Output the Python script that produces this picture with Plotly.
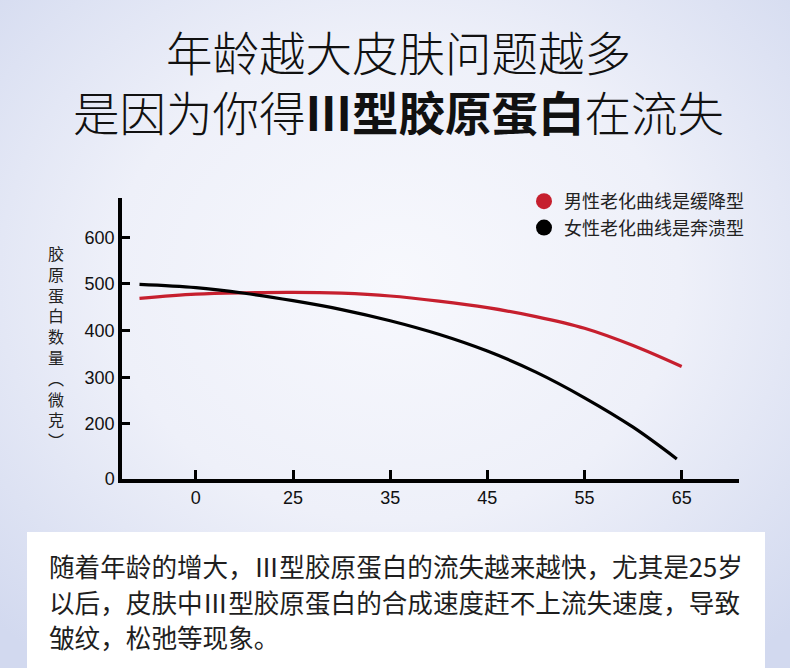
import base64
import plotly.graph_objects as go

# ---------------- data ----------------
age_labels = ["0", "25", "35", "45", "55", "65"]
age_pos = [0, 1, 2, 3, 4, 5]

male_x = [-0.58, 0, 0.5, 1, 1.5, 2, 2.5, 3, 3.5, 4, 4.5, 5]
male_y = [469, 478, 481, 482, 480, 474, 463, 449, 430, 405, 368, 323]

female_x = [-0.58, 0, 0.5, 1, 1.5, 2, 2.5, 3, 3.5, 4, 4.5, 4.95]
female_y = [499, 492, 480, 464, 445, 421, 392, 356, 311, 256, 193, 125]

y_tick_vals = [82, 200, 300, 400, 500, 600]
y_tick_text = ["0", "200", "300", "400", "500", "600"]

male_name = "男性老化曲线是缓降型"
female_name = "女性老化曲线是奔溃型"
y_title = "胶<br>原<br>蛋<br>白<br>数<br>量<br>︵<br>微<br>克<br>︶"
title_text = "年龄越大皮肤问题越多<br>是因为你得<b>Ⅲ型胶原蛋白</b>在流失"
para_lines = [
    "随着年龄的增大，Ⅲ型胶原蛋白的流失越来越快，尤其是25岁",
    "以后，皮肤中Ⅲ型胶原蛋白的合成速度赶不上流失速度，导致",
    "皱纹，松弛等现象。",
]

# ---------------- geometry helpers ----------------
W, H = 790, 668
L, R, T, B = 122, 51, 198, 189
PW, PH = W - L - R, H - T - B


def px(x):
    return (x - L) / PW


def py(y):
    return (H - B - y) / PH


CJK = "Noto Sans CJK SC"
NUM = "Liberation Sans, Arial, sans-serif"
RED = "#c61f2e"

fig = go.Figure()
fig.add_trace(go.Scatter(x=male_x, y=male_y, mode="lines", showlegend=False,
                         line=dict(color=RED, width=3.2, shape="spline", smoothing=1.0)))
fig.add_trace(go.Scatter(x=female_x, y=female_y, mode="lines", showlegend=False,
                         line=dict(color="#000000", width=3.2, shape="spline", smoothing=1.0)))
# legend entries
fig.add_trace(go.Scatter(x=[None], y=[None], mode="markers", name=male_name,
                         marker=dict(color=RED, size=17)))
fig.add_trace(go.Scatter(x=[None], y=[None], mode="markers", name=female_name,
                         marker=dict(color="#000000", size=17)))

# background gradient image
svg = (
    '<svg xmlns="http://www.w3.org/2000/svg" width="790" height="668">'
    '<defs><radialGradient id="g" cx="50%" cy="42%" r="72%">'
    '<stop offset="0%" stop-color="#f7f8fd"/>'
    '<stop offset="50%" stop-color="#eef0f9"/>'
    '<stop offset="100%" stop-color="#d2d9ef"/>'
    '</radialGradient></defs>'
    '<rect width="790" height="668" fill="url(#g)"/></svg>'
)
src = "data:image/svg+xml;base64," + base64.b64encode(svg.encode()).decode()

annotations = []
annotations.append(dict(x=px(398), y=py(80), xref="paper", yref="paper", text=title_text,
                        showarrow=False, xanchor="center", yanchor="middle", align="center",
                        font=dict(family=CJK, size=46.5, color="#111111", weight=300)))

annotations.append(dict(x=px(56), y=py(346), xref="paper", yref="paper", text=y_title,
                        showarrow=False, xanchor="center", yanchor="middle",
                        font=dict(family=CJK, size=16, color="#222222")))

for line, yy in zip(para_lines, [565, 601, 636]):
    annotations.append(dict(x=px(47), y=py(yy), xref="paper", yref="paper", text=line,
                            showarrow=False, xanchor="left", yanchor="middle",
                            font=dict(family=CJK, size=25.6, color="#1e1e1e")))

fig.update_layout(
    width=W, height=H,
    margin=dict(l=L, r=R, t=T, b=B),
    paper_bgcolor="#e4e8f5",
    plot_bgcolor="rgba(0,0,0,0)",
    images=[dict(source=src, xref="paper", yref="paper", x=px(0), y=py(0),
                 sizex=W / PW, sizey=H / PH, xanchor="left", yanchor="top",
                 sizing="stretch", layer="below")],
    shapes=[dict(type="rect", xref="paper", yref="paper", x0=px(27), x1=px(765),
                 y0=py(680), y1=py(532), fillcolor="#ffffff", line=dict(width=0),
                 layer="below")],
    annotations=annotations,
    legend=dict(x=px(524), y=py(183), xanchor="left", yanchor="top",
                bgcolor="rgba(0,0,0,0)", font=dict(family=CJK, size=18, color="#222222"),
                tracegroupgap=0, itemwidth=30),
    xaxis=dict(range=[-0.76, 5.59], tickvals=age_pos, ticktext=age_labels,
               ticks="inside", ticklen=9, tickwidth=3, tickcolor="#000",
               showline=True, linewidth=3.5, linecolor="#000",
               showgrid=False, zeroline=False,
               tickfont=dict(family=NUM, size=18, color="#111")),
    yaxis=dict(range=[82, 684], tickvals=y_tick_vals, ticktext=y_tick_text,
               ticks="inside", ticklen=8, tickwidth=3, tickcolor="#000",
               showline=True, linewidth=3.5, linecolor="#000",
               showgrid=False, zeroline=False,
               tickfont=dict(family=NUM, size=18, color="#111")),
)

fig.write_html(
    "out.html",
    config={"displayModeBar": False},
    post_script="document.body.style.margin='0';document.body.style.overflow='hidden';",
)
